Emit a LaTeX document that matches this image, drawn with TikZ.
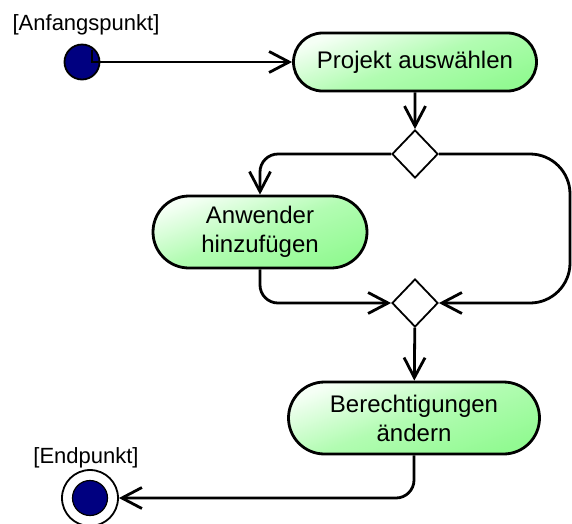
\documentclass[tikz,border=0pt]{standalone}
\usepackage{fontspec}
\setmainfont{Liberation Sans}
\usetikzlibrary{arrows.meta,shapes.geometric,shapes.misc}
\definecolor{aktHell}{RGB}{245,255,245}
\definecolor{aktMitte}{RGB}{178,252,178}
\definecolor{aktGruen}{RGB}{146,250,146}
\definecolor{punkt}{RGB}{0,0,128}
\tikzset{
  aktion/.style = {rounded rectangle, draw=black, line width=2.8pt, align=center,
    left color=aktHell, right color=aktGruen, middle color=aktMitte, shading angle=20,
    font=\fontsize{24}{29}\selectfont, inner sep=0pt},% Aktivitaet
  entscheidung/.style = {diamond, draw=black, line width=1.8pt, fill=white,
    minimum width=46pt, minimum height=48pt, inner sep=0pt},% Verzweigung / Zusammenfuehrung
  startpunkt/.style = {circle, draw=black, line width=1.8pt, fill=punkt,
    minimum size=35pt, inner sep=0pt},
  endring/.style = {circle, draw=black, line width=1.8pt, fill=white,
    minimum size=56pt, inner sep=0pt},
  endpunkt/.style = {circle, draw=black, line width=1.2pt, fill=punkt,
    minimum size=35pt, inner sep=0pt},
  marke/.style = {font=\fontsize{22}{26}\selectfont},
  fluss/.style = {line width=2.8pt, -{Straight Barb[length=20pt,width=21pt]}}
}
\begin{document}
\begin{tikzpicture}[x=1pt, y=-1pt]
  \clip (0,0) rectangle (572,523);
  \useasboundingbox (0,0) rectangle (572,523);
  % Knoten
  \node [startpunkt] (anfang) at (82,62) {};
  \node [marke] (anfangText) at (86,25) {[Anfangspunkt]};
  \node [aktion, minimum width=243pt, minimum height=58pt] (projekt) at (415,62) {Projekt auswählen};
  \node [entscheidung] (split) at (415,154) {};
  \node [aktion, minimum width=214pt, minimum height=72pt] (anwender) at (260,232) {Anwender\\hinzufügen};
  \node [entscheidung] (merge) at (415,303) {};
  \node [aktion, minimum width=251pt, minimum height=72pt] (rechte) at (414,418) {Berechtigungen\\ändern};
  \node [endring] (ende) at (90,498) {};
  \node [endpunkt] (endeKern) at (ende) {};
  \node [marke] (endeText) at (86,458) {[Endpunkt]};
  \coordinate (rechts) at (570,0);
  % Kanten
  \draw [fluss] ([shift={(10,-12)}]anfang.center) |- (projekt);
  \draw [fluss] (projekt) -- (split);
  \draw [fluss, rounded corners=18pt] (split.west) -| (anwender.north);
  \draw [fluss, rounded corners=40pt] (split.east) -- (split.east -| rechts)
    -- (merge.east -| rechts) -- (merge.east);
  \draw [fluss, rounded corners=18pt] (anwender.south) |- (merge.west);
  \draw [fluss] (merge) -- (rechte);
  \draw [fluss, rounded corners=18pt] (rechte.south) |- (ende);
\end{tikzpicture}
\end{document}
